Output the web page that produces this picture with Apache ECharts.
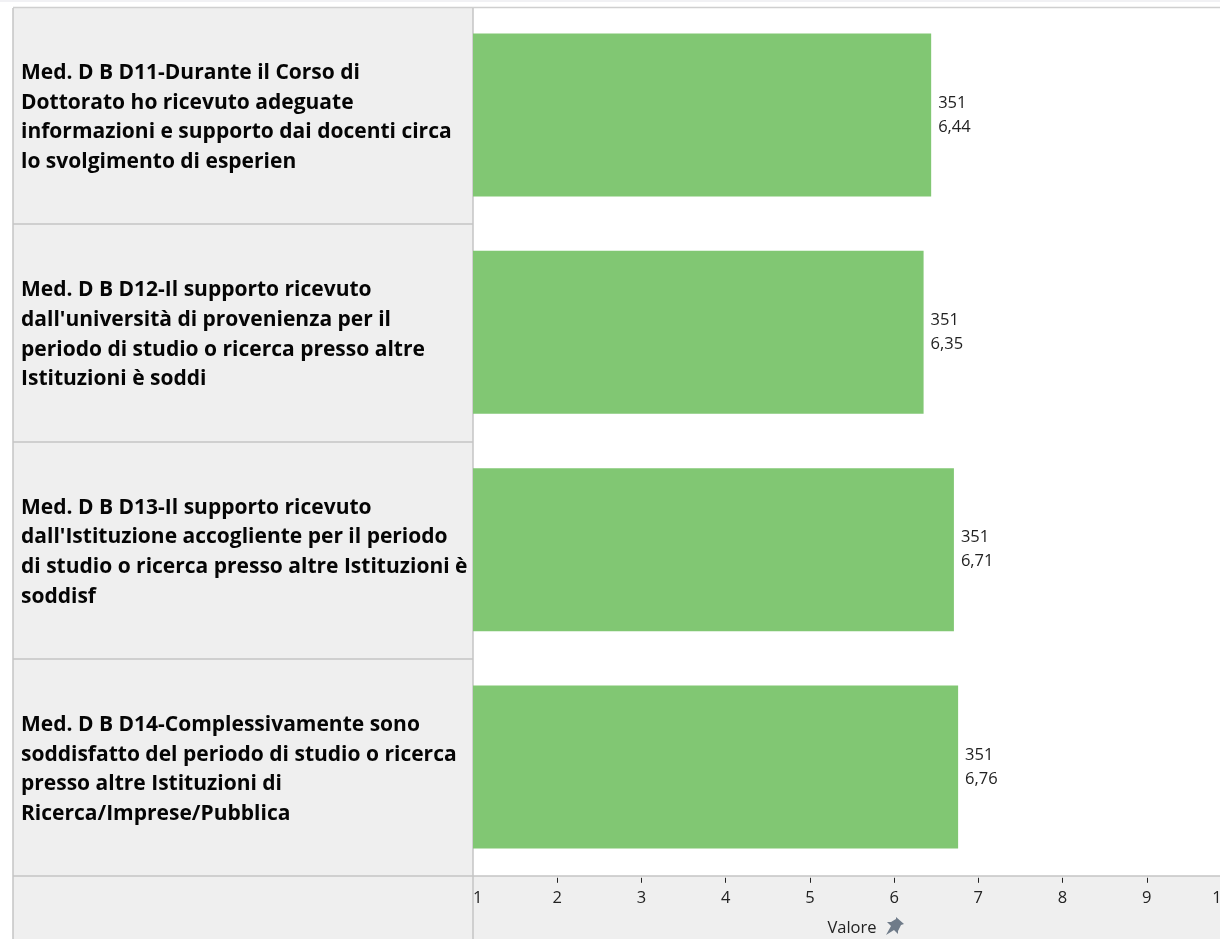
<!DOCTYPE html>
<html>
<head>
<meta charset="utf-8">
<style>html,body{margin:0;padding:0;background:#fff;overflow:hidden}#c{width:1220px;height:939px}</style>
<script src="https://cdn.jsdelivr.net/npm/echarts@6/dist/echarts.min.js"></script>
</head>
<body>
<div id="c"></div>
<script>
const categories = [
  "Med. D B D11-Durante il Corso di\nDottorato ho ricevuto adeguate\ninformazioni e supporto dai docenti circa\nlo svolgimento di esperien",
  "Med. D B D12-Il supporto ricevuto\ndall'università di provenienza per il\nperiodo di studio o ricerca presso altre\nIstituzioni è soddi",
  "Med. D B D13-Il supporto ricevuto\ndall'Istituzione accogliente per il periodo\ndi studio o ricerca presso altre Istituzioni è\nsoddisf",
  "Med. D B D14-Complessivamente sono\nsoddisfatto del periodo di studio o ricerca\npresso altre Istituzioni di\nRicerca/Imprese/Pubblica"
];
const values = [6.44, 6.35, 6.71, 6.76];
const counts = [351, 351, 351, 351];
const tickValues = [2, 3, 4, 5, 6, 7, 8, 9];
const axisName = "Valore";

const FONT = '"Open Sans","Noto Sans",sans-serif';
const border = '#c4c4c4';
const panel = '#efefef';
const hLine = (y, x2) => ({type:'line', z:-1, shape:{x1:13,y1:y,x2:x2,y2:y}, style:{stroke:border,lineWidth:1.5}});
const vLine = (x) => ({type:'line', z:-1, shape:{x1:x,y1:8,x2:x,y2:939}, style:{stroke:border,lineWidth:1.5}});

const chart = echarts.init(document.getElementById('c'), null, {renderer:'canvas'});
chart.setOption({
  animation:false,
  backgroundColor:'#ffffff',
  textStyle:{fontFamily:FONT},
  grid:{left:473, top:6.3, width:758, height:869.5, containLabel:false, outerBoundsMode:'none'},
  xAxis:{
    type:'value', min:1, max:10, interval:1, offset:2,
    name:axisName, nameLocation:'middle', nameGap:42,
    nameTextStyle:{fontFamily:FONT,fontSize:16.5,color:'#222'},
    axisLine:{show:false},
    axisTick:{show:true,length:5,customValues:tickValues,lineStyle:{color:'#222',width:1}},
    splitLine:{show:false},
    axisLabel:{fontFamily:FONT,fontSize:16.5,color:'#222',margin:12,showMinLabel:true,showMaxLabel:true,hideOverlap:false,alignMinLabel:'left',alignMaxLabel:'right',
      formatter:v=>String(v)}
  },
  yAxis:{
    type:'category', inverse:true, data:categories,
    axisLine:{show:false}, axisTick:{show:false}, splitLine:{show:false},
    axisLabel:{fontFamily:FONT,fontSize:21,fontWeight:'bold',color:'#050505',align:'left',verticalAlign:'top',margin:452,lineHeight:29.7,interval:0,overflow:'none',padding:[-57,0,0,0]}
  },
  series:[{
    type:'bar', barWidth:163,
    data:values,
    itemStyle:{color:'#81c773'},
    label:{show:true,position:'right',distance:7,fontFamily:FONT,fontSize:16.5,color:'#222',lineHeight:24,align:'left',
      formatter:p=>counts[p.dataIndex]+'\n'+p.value.toFixed(2).replace('.',',')}
  }],
  graphic:[
    {type:'rect', z:-2, shape:{x:13,y:8,width:460,height:931}, style:{fill:panel}},
    {type:'rect', z:-2, shape:{x:473,y:876,width:747,height:63}, style:{fill:panel}},
    {type:'rect', z:-2, shape:{x:0,y:0,width:1220,height:2}, style:{fill:'#f1f1f4'}},
    {type:'line', z:-1, shape:{x1:13,y1:7.5,x2:1220,y2:7.5}, style:{stroke:'#cfcfcf',lineWidth:1.5}},
    vLine(13), vLine(473),
    hLine(224,473), hLine(442,473), hLine(659,473), hLine(876,1220),
    {type:'polygon', z:5, x:885, y:917, shape:{
       points:[[11,0],[19,7],[16,8],[13,14],[13,17],[9,13],[1,18],[6,9],[2,5],[6,5],[11,2]]},
       style:{fill:'#6f7b89'}}
  ]
});
</script>
</body>
</html>
